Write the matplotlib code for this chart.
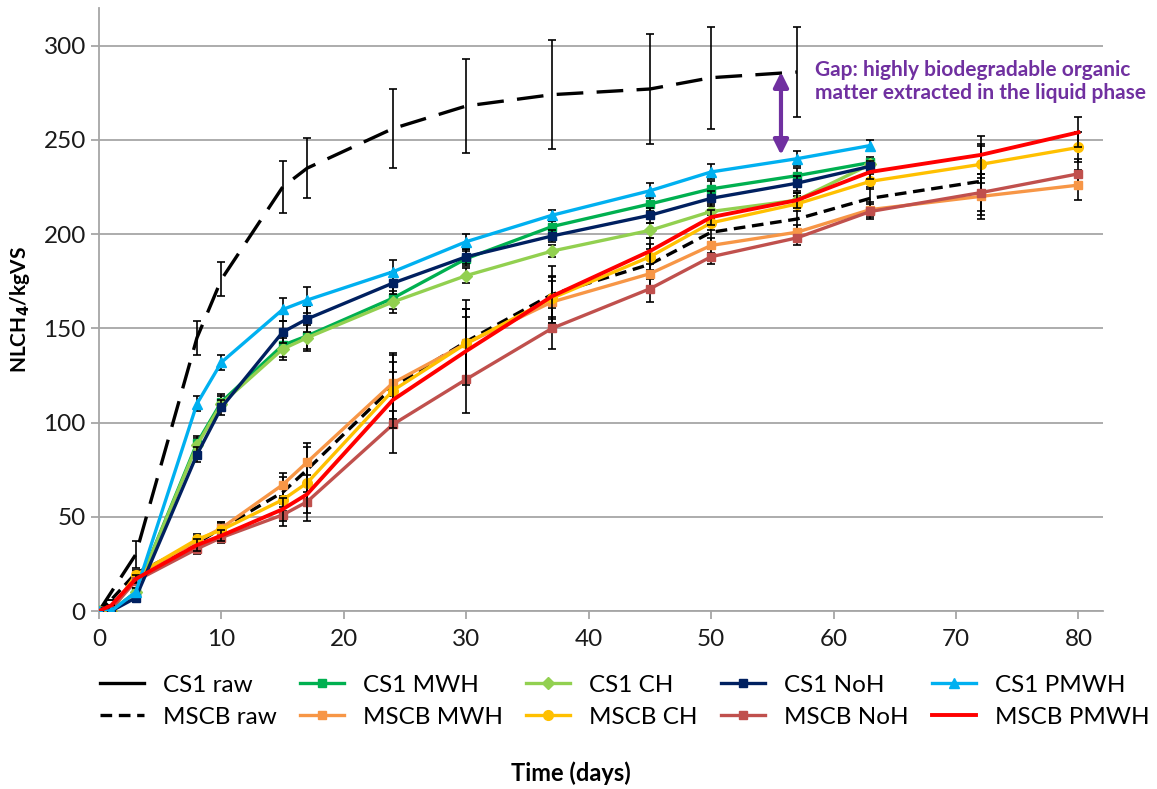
import numpy as np
import matplotlib
matplotlib.use("Agg")
import matplotlib.pyplot as plt
from matplotlib.lines import Line2D

plt.rcParams['font.family'] = ['Lato', 'DejaVu Sans']

# time points (days)
days_cs1 = [0, 1, 3, 8, 10, 15, 17, 24, 30, 37, 45, 50, 57, 63]
days_mscb = [0, 1, 3, 8, 10, 15, 17, 24, 30, 37, 45, 50, 57, 63, 72, 80]
days_cs1_raw = [0, 3, 8, 10, 15, 17, 24, 30, 37, 45, 50, 57]
days_mscb_raw = [0, 1, 3, 8, 10, 15, 17, 24, 30, 37, 45, 50, 57, 63, 72]

# NLCH4/kgVS
cs1_raw = [0, 30, 145, 176, 225, 235, 256, 268, 274, 277, 283, 286]
cs1_raw_err = [0, 7, 9, 9, 14, 16, 21, 25, 29, 29, 27, 24]
mscb_raw = [0, 6, 20, 36, 44, 63, 75, 119, 143, 168, 184, 201, 208, 219, 228]
mscb_raw_err = [0, 0, 2, 3, 3, 8, 12, 18, 22, 15, 8, 5, 7, 6, 20]

cs1_mwh = [0, 0, 10, 89, 111, 141, 146, 166, 187, 204, 216, 224, 231, 238]
cs1_ch = [0, 0, 10, 88, 110, 139, 145, 164, 178, 191, 202, 212, 218, 237]
cs1_noh = [0, 0, 7, 83, 108, 148, 155, 174, 188, 199, 210, 219, 227, 236]
cs1_pmwh = [0, 0, 10, 110, 132, 160, 165, 180, 196, 210, 223, 233, 240, 247]
cs1_err = [0, 0, 2, 4, 4, 6, 7, 6, 4, 3, 4, 4, 4, 3]

mscb_mwh = [0, 1, 19, 37, 44, 67, 79, 121, 142, 164, 179, 194, 201, 213, 220, 226]
mscb_ch = [0, 0, 19, 38, 43, 59, 68, 117, 142, 166, 188, 206, 216, 228, 237, 246]
mscb_noh = [0, 1, 16, 33, 39, 51, 58, 99, 123, 150, 171, 188, 198, 212, 222, 232]
mscb_pmwh = [0, 3, 17, 35, 40, 54, 62, 112, 138, 167, 191, 209, 218, 233, 242, 254]
mscb_err = [0, 0, 2, 3, 3, 6, 10, 15, 18, 11, 7, 4, 4, 4, 10, 8]

fig = plt.figure(figsize=(11.57, 7.89), dpi=100)
ax = fig.add_axes([0.0856, 0.2256, 0.8677, 0.7643])

eb = dict(ecolor='black', elinewidth=1.2, capsize=3, capthick=1.2)

series = []
series.append(ax.errorbar(days_cs1_raw, cs1_raw, yerr=cs1_raw_err, color='black', lw=2.4,
                          dashes=(8, 4), zorder=3, **eb))
series.append(ax.errorbar(days_mscb_raw, mscb_raw, yerr=mscb_raw_err, color='black', lw=2.4,
                          dashes=(3.5, 2), zorder=4, **eb))
series.append(ax.errorbar(days_cs1, cs1_mwh, yerr=cs1_err, color='#00B050', lw=2.4,
                          marker='s', ms=6, zorder=5, **eb))
series.append(ax.errorbar(days_mscb, mscb_mwh, yerr=mscb_err, color='#F79646', lw=2.4,
                          marker='s', ms=6, zorder=5, **eb))
series.append(ax.errorbar(days_cs1, cs1_ch, yerr=cs1_err, color='#92D050', lw=2.4,
                          marker='D', ms=6, zorder=5, **eb))
series.append(ax.errorbar(days_mscb, mscb_ch, yerr=mscb_err, color='#FFC000', lw=2.4,
                          marker='o', ms=7, zorder=5, **eb))
series.append(ax.errorbar(days_cs1, cs1_noh, yerr=cs1_err, color='#002060', lw=2.4,
                          marker='s', ms=6, zorder=6, **eb))
series.append(ax.errorbar(days_mscb, mscb_noh, yerr=mscb_err, color='#C0504D', lw=2.4,
                          marker='s', ms=6, zorder=5, **eb))
series.append(ax.errorbar(days_cs1, cs1_pmwh, yerr=cs1_err, color='#00B0F0', lw=2.4,
                          marker='^', ms=7, zorder=6, **eb))
series.append(ax.errorbar(days_mscb, mscb_pmwh, yerr=mscb_err, color='#FF0000', lw=2.8,
                          zorder=6, **eb))
labels = ['CS1 raw', 'MSCB raw', 'CS1 MWH', 'MSCB MWH', 'CS1 CH', 'MSCB CH',
          'CS1 NoH', 'MSCB NoH', 'CS1 PMWH', 'MSCB PMWH']

# gap annotation
ax.annotate('', xy=(55.7, 242), xytext=(55.7, 286),
            arrowprops=dict(arrowstyle='<|-|>', color='#7030A0', lw=3,
                            mutation_scale=22, shrinkA=0, shrinkB=0), zorder=7)
ax.text(58.5, 281, 'Gap: highly biodegradable organic\nmatter extracted in the liquid phase',
        color='#7030A0', fontsize=15, fontweight='bold', va='center', ha='left',
        linespacing=1.2)

ax.set_xlim(0, 82)
ax.set_ylim(0, 320)
ax.set_xticks(np.arange(0, 81, 10))
ax.set_yticks(np.arange(0, 301, 50))
ax.grid(axis='y', color='#A6A6A6', lw=1.3)
ax.set_axisbelow(True)
for s in ['top', 'right']:
    ax.spines[s].set_visible(False)
for s in ['left', 'bottom']:
    ax.spines[s].set_color('#A6A6A6')
    ax.spines[s].set_linewidth(1.3)
ax.tick_params(axis='both', colors='#A6A6A6', labelcolor='#1a1a1a', labelsize=17.5,
               length=6, width=1.3)
ax.tick_params(axis='x', pad=7)

ax.set_ylabel(r'NLCH$_\mathbf{4}$/kgVS', fontsize=15, fontweight='bold', labelpad=8)
fig.text(0.493, 0.005, 'Time (days)', fontsize=17, fontweight='bold', ha='center',
         va='bottom')

handles = [c[0] for c in series]
handles[0] = Line2D([], [], color='black', lw=2.4)
fig.legend(handles, labels, ncol=5, loc='upper left', bbox_to_anchor=(0.0864, 0.145),
           frameon=False, fontsize=17.5, handlelength=1.8, handletextpad=0.8,
           columnspacing=0.95, labelspacing=0.45, borderpad=0, borderaxespad=0)

fig.savefig('out.png', dpi=100)
